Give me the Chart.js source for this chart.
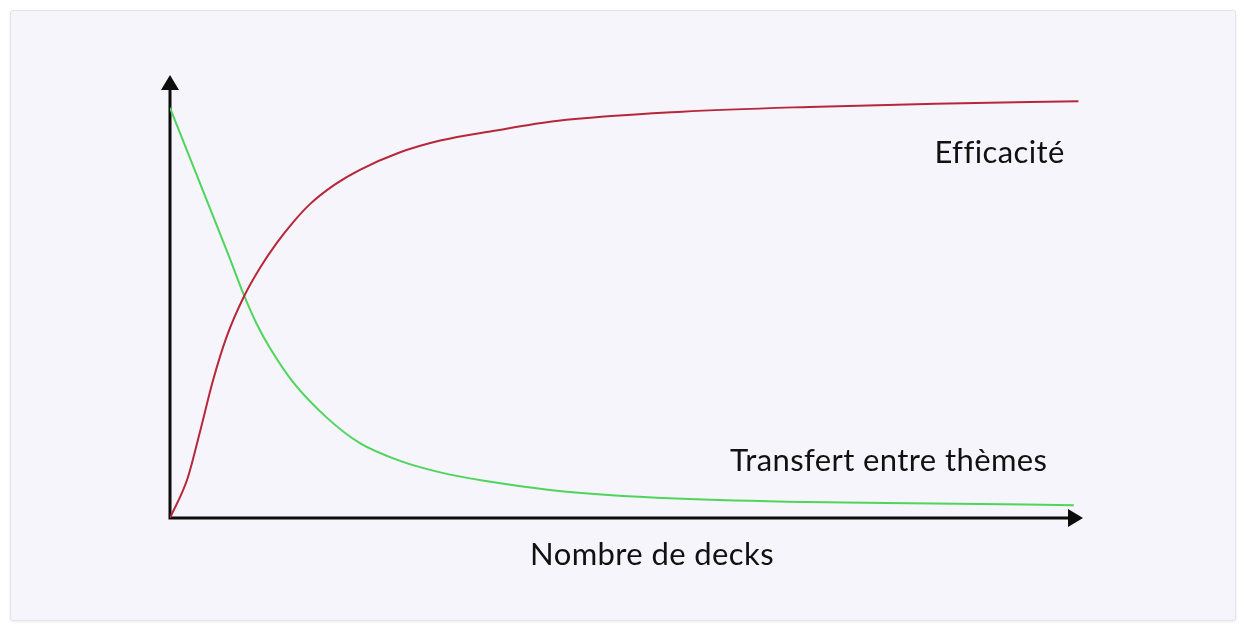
<!DOCTYPE html>
<html lang="fr">
<head>
<meta charset="utf-8">
<title>Efficacité / Transfert entre thèmes</title>
<script src="https://cdn.jsdelivr.net/npm/chart.js@4/dist/chart.umd.min.js"></script>
<style>
    html, body { margin: 0; padding: 0; background: #ffffff; }
    body { width: 1244px; height: 629px; position: relative; overflow: hidden; }
    .panel {
        position: absolute; left: 10px; top: 10px; width: 1224px; height: 609px;
        background: #f5f5fb; border: 1px solid #e4e4e8; border-radius: 3px;
        box-shadow: 0 1px 3px rgba(0,0,0,0.08);
    }
    #chart-wrap { position: absolute; left: 0; top: 0; width: 1244px; height: 629px; }
</style>
</head>
<body>
<div class="panel"></div>
<div id="chart-wrap"><canvas id="chart"></canvas></div>
<script>
// ── Data (x: nombre de decks, y: niveau relatif, 0–100) ───────────────────

const efficaciteX = [0, 1.9, 3.3, 4.7, 6.2, 8.1, 9.9, 11.7, 13.5, 15.3, 18.0, 20.8, 25.0, 29.6, 35.5, 42.3, 56.1, 70.0, 83.8, 99.5];
const efficaciteY = [0, 8.8, 19.6, 31.0, 40.9, 50.0, 56.6, 62.1, 66.8, 70.8, 75.2, 78.6, 82.4, 85.2, 87.4, 89.6, 91.7, 92.8, 93.5, 94.1];

const transfertX = [0, 2.2, 4.4, 6.4, 8.1, 9.5, 11.0, 13.5, 17.2, 20.8, 25.2, 29.6, 34.4, 41.4, 48.0, 55.4, 69.6, 83.6, 99.0];
const transfertY = [92.6, 81.2, 69.8, 59.4, 50.3, 43.8, 38.2, 30.6, 22.6, 16.9, 12.9, 10.3, 8.4, 6.4, 5.2, 4.4, 3.6, 3.3, 2.9];

const seriesLabels = ['Efficacité', 'Transfert entre thèmes'];
const axisTitle = 'Nombre de decks';

const toPoints = (xs, ys) => xs.map((x, i) => ({ x, y: ys[i] }));

// ── Axes with arrowheads + text labels ────────────────────────────────────

const FONT = '31px Lato, "Open Sans", sans-serif';

const axesPlugin = {
    id: 'arrowAxes',
    beforeDatasetsDraw(chart) {
        const { ctx, scales: { x, y } } = chart;
        const x0 = x.getPixelForValue(0);
        const y0 = y.getPixelForValue(0);
        const xEnd = x.getPixelForValue(100);
        const yEnd = y.getPixelForValue(100);

        ctx.save();
        ctx.strokeStyle = '#0d0d0d';
        ctx.fillStyle = '#0d0d0d';
        ctx.lineWidth = 3;
        ctx.beginPath();
        ctx.moveTo(x0 - 1.5, y0);
        ctx.lineTo(xEnd - 12, y0);
        ctx.moveTo(x0, y0 + 1.5);
        ctx.lineTo(x0, yEnd + 12);
        ctx.stroke();

        // x arrow
        ctx.beginPath();
        ctx.moveTo(xEnd, y0);
        ctx.lineTo(xEnd - 15, y0 - 9);
        ctx.lineTo(xEnd - 15, y0 + 9);
        ctx.closePath();
        ctx.fill();

        // y arrow
        ctx.beginPath();
        ctx.moveTo(x0, yEnd);
        ctx.lineTo(x0 - 9, yEnd + 15);
        ctx.lineTo(x0 + 9, yEnd + 15);
        ctx.closePath();
        ctx.fill();
        ctx.restore();
    },
    afterDatasetsDraw(chart) {
        const { ctx, scales: { x, y } } = chart;
        ctx.save();
        ctx.font = FONT;
        ctx.letterSpacing = '0.4px';   // also breaks the "ffi" ligature like the original
        ctx.fillStyle = '#111111';
        ctx.textBaseline = 'alphabetic';

        ctx.textAlign = 'right';
        ctx.fillText(seriesLabels[0], x.getPixelForValue(98.0), y.getPixelForValue(80.1));
        ctx.fillText(seriesLabels[1], x.getPixelForValue(96.1), y.getPixelForValue(10.6));

        ctx.textAlign = 'center';
        ctx.fillText(axisTitle, x.getPixelForValue(52.8), y.getPixelForValue(0) + 47);
        ctx.restore();
    },
};

// ── Chart ──────────────────────────────────────────────────────────────────

new Chart(document.getElementById('chart'), {
    type: 'line',
    data: {
        datasets: [
            {
                label: seriesLabels[0],
                data: toPoints(efficaciteX, efficaciteY),
                borderColor: '#b8263a',
                borderWidth: 2,
                pointRadius: 0,
                cubicInterpolationMode: 'monotone',
                fill: false,
            },
            {
                label: seriesLabels[1],
                data: toPoints(transfertX, transfertY),
                borderColor: '#4fd45c',
                borderWidth: 2,
                pointRadius: 0,
                cubicInterpolationMode: 'monotone',
                fill: false,
            },
        ],
    },
    options: {
        responsive: true,
        maintainAspectRatio: false,
        animation: false,
        layout: { padding: { left: 170, right: 161, top: 75, bottom: 111 } },
        plugins: {
            legend: { display: false },
            tooltip: { enabled: false },
        },
        scales: {
            x: { type: 'linear', min: 0, max: 100, display: false },
            y: { type: 'linear', min: 0, max: 100, display: false },
        },
    },
    plugins: [axesPlugin],
});
</script>
</body>
</html>
